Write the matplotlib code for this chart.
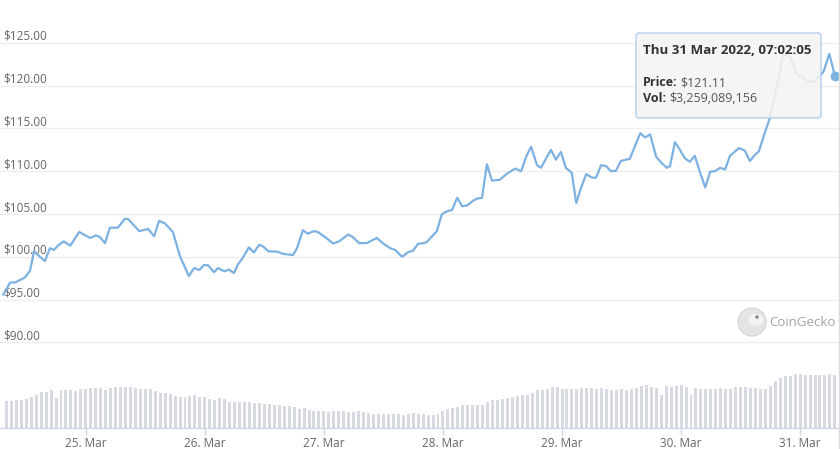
import pandas as pd
import matplotlib
matplotlib.use("Agg")
import matplotlib.pyplot as plt
import matplotlib.dates as mdates
from matplotlib.patches import FancyBboxPatch, Circle, Ellipse
from matplotlib.lines import Line2D
from matplotlib.transforms import IdentityTransform

plt.rcParams['font.family'] = ['Open Sans', 'DejaVu Sans']

# %% Data
start = pd.Timestamp("2022-03-24 00:00")
# hours since 24 Mar 00:00 and price in USD
price_hours = [7.4, 8.8, 9.8, 11.8, 12.8, 13.6, 14.6, 15.8, 16.8, 17.6,
               18.6, 19.6, 20.9, 22.7, 24.9, 26.1, 26.9, 27.9, 28.9, 30.5,
               31.9, 32.6, 34.8, 36.6, 37.8, 38.8, 40.0, 41.6, 43.0, 44.8,
               45.9, 46.9, 47.9, 48.7, 49.9, 50.7, 51.9, 52.9, 53.9, 54.7,
               55.7, 56.9, 57.9, 59.0, 59.8, 60.8, 62.6, 63.8, 65.8, 66.6,
               67.8, 68.8, 70.0, 70.8, 72.5, 73.9, 75.1, 76.9, 77.9, 79.1,
               80.7, 81.5, 82.7, 84.0, 85.4, 86.4, 87.8, 89.0, 90.0, 91.0,
               92.2, 92.8, 94.0, 94.8, 95.8, 96.6, 97.9, 98.9, 99.9, 100.9,
               102.1, 102.9, 103.9, 104.9, 105.9, 107.5, 108.9, 110.6, 111.8, 112.8,
               113.8, 115.0, 115.8, 117.8, 118.8, 119.8, 120.8, 122.0, 122.9, 123.9,
               124.9, 126.1, 126.9, 127.9, 128.9, 129.9, 130.9, 131.9, 133.7, 135.8,
               136.8, 137.8, 139.0, 140.2, 141.2, 141.8, 142.8, 143.8, 144.8, 145.8,
               146.8, 147.8, 148.9, 149.9, 150.9, 151.9, 152.9, 153.9, 154.9, 155.7,
               156.9, 157.9, 158.9, 159.7, 160.7, 161.8, 163.4, 164.6, 166.0, 167.4,
               168.4, 169.6, 170.6, 172.0, 172.8, 173.9, 174.5, 175.03]
price_usd = [95.6, 97.0, 97.0, 97.6, 98.4, 100.65, 100.1, 99.5, 101.0, 100.8,
             101.4, 101.8, 101.3, 102.9, 102.2, 102.5, 102.3, 101.6, 103.4, 103.4,
             104.45, 104.4, 103.0, 103.25, 102.4, 104.2, 103.9, 102.9, 100.1, 97.75,
             98.7, 98.45, 99.05, 99.0, 98.2, 98.7, 98.3, 98.5, 98.1, 99.1,
             99.9, 101.1, 100.5, 101.4, 101.2, 100.65, 100.6, 100.35, 100.2, 101.0,
             103.1, 102.7, 103.0, 102.9, 102.2, 101.55, 101.8, 102.6, 102.3, 101.6,
             101.6, 101.85, 102.2, 101.55, 101.0, 100.8, 100.0, 100.55, 100.7, 101.5,
             101.6, 101.75, 102.5, 103.0, 104.95, 105.25, 105.5, 106.9, 105.9, 106.0,
             106.55, 106.8, 106.9, 110.8, 108.9, 109.0, 109.7, 110.3, 110.0, 111.7,
             112.85, 110.7, 110.4, 112.5, 111.35, 112.25, 110.4, 109.8, 106.3, 108.1,
             109.65, 109.25, 109.25, 110.7, 110.6, 110.0, 110.05, 111.2, 111.45, 114.45,
             113.95, 114.3, 111.7, 110.9, 110.4, 110.6, 113.4, 112.5, 111.5, 111.1,
             111.8, 109.95, 108.1, 109.95, 110.0, 110.4, 110.2, 111.8, 112.3, 112.7,
             112.4, 111.2, 111.9, 112.3, 114.1, 116.0, 120.0, 123.6, 123.4, 121.3,
             121.1, 120.5, 120.4, 121.1, 121.7, 123.7, 122.4, 121.11]

# hourly volume, billions USD
vol_start = pd.Timestamp("2022-03-24 08:02:05")
vol_bn = [1.63, 1.67, 1.71, 1.73, 1.79, 1.89, 1.99, 2.20, 2.20, 2.34,
          1.85, 2.34, 2.34, 2.34, 2.26, 2.40, 2.40, 2.46, 2.46, 2.46,
          2.34, 2.46, 2.53, 2.50, 2.53, 2.48, 2.46, 2.40, 2.40, 2.40,
          2.26, 2.16, 2.16, 2.06, 1.93, 1.89, 1.89, 1.95, 1.99, 1.87,
          1.87, 1.79, 1.73, 1.83, 1.75, 1.59, 1.59, 1.59, 1.59, 1.59,
          1.55, 1.55, 1.49, 1.45, 1.43, 1.38,
          1.34, 1.32, 1.26, 1.18, 1.22, 1.08, 1.04, 1.02, 1.02, 0.98,
          1.02, 1.04, 1.02, 0.98, 0.98, 1.04, 0.98, 0.94, 0.88, 0.88,
          0.88, 0.88, 0.84, 0.88, 0.82, 0.88, 0.94, 0.88, 0.88, 0.82,
          0.77, 0.84, 1.02, 1.14, 1.22, 1.28, 1.38, 1.38, 1.38, 1.38,
          1.43, 1.59, 1.69, 1.69, 1.79, 1.83, 1.89, 1.93, 1.99, 2.04,
          2.14, 2.30, 2.34, 2.40, 2.50, 2.47,
          2.40, 2.40, 2.36, 2.40, 2.44, 2.46, 2.44, 2.40, 2.44, 2.40,
          2.34, 2.34, 2.36, 2.34, 2.40, 2.46, 2.54, 2.60, 2.50, 2.44,
          1.99, 2.56, 2.50, 2.54, 2.65, 2.50, 2.04, 2.44, 2.40, 2.40,
          2.40, 2.40, 2.44, 2.40, 2.40, 2.50, 2.50, 2.50, 2.46, 2.44,
          2.40, 2.40, 2.56, 2.85, 3.05, 3.17, 3.17, 3.32, 3.32, 3.26,
          3.26, 3.26, 3.26, 3.26, 3.32, 3.26]

price_ticks = [90, 95, 100, 105, 110, 115, 120, 125]
day_ticks = pd.date_range("2022-03-25", "2022-03-31", freq="D")

tip_time = pd.Timestamp("2022-03-31 07:02:05")
tip_price = 121.11
tip_vol = 3259089156

# %% Convert to matplotlib dates
price_x = mdates.date2num((start + pd.to_timedelta(price_hours, unit="h")).to_pydatetime())
vol_x = mdates.date2num(pd.date_range(vol_start, periods=len(vol_bn), freq="h").to_pydatetime())
day_x = mdates.date2num(day_ticks.to_pydatetime())
x_lo = mdates.date2num((start + pd.Timedelta(hours=6.74)).to_pydatetime())
x_hi = mdates.date2num((start + pd.Timedelta(hours=176.07)).to_pydatetime())

W, H = 840, 449
line_col = "#7cb1e2"

fig = plt.figure(figsize=(W / 100, H / 100), dpi=100)
ax_vol = fig.add_axes([0, 21 / H, 1, 428 / H])
ax = ax_vol.twinx()

# volume bars
ax_vol.bar(vol_x, vol_bn, width=0.6 / 24, color="#d7dae1", align="center")
ax_vol.set_ylim(0, 26.1)
ax_vol.set_xlim(x_lo, x_hi)
ax_vol.set_yticks([])
for s in ["top", "left", "right"]:
    ax_vol.spines[s].set_visible(False)
ax_vol.spines["bottom"].set_color("#ccd6eb")
ax_vol.set_xticks(day_x)
ax_vol.xaxis.set_major_formatter(mdates.DateFormatter("%d. %b"))
ax_vol.tick_params(axis="x", length=5, width=1, color="#ccd6eb",
                   labelcolor="#666666", labelsize=8.5, pad=1.5)

# price line
ax.set_ylim(80, 130)
ax.set_yticks([])
for s in ax.spines.values():
    s.set_visible(False)
for v in price_ticks:
    ax.axhline(v, color="#efefef", lw=1, zorder=0)
    ax.annotate(f"${v:.2f}", xy=(0, v), xycoords=("axes fraction", "data"),
                xytext=(3, 0), textcoords="offset pixels",
                ha="left", va="bottom", fontsize=8.5, color="#666666")
ax.plot(price_x, price_usd, color=line_col, lw=1.6, solid_joinstyle="round", zorder=3)
ax.plot(price_x[-1], price_usd[-1], "o", ms=6, color=line_col, zorder=4)

# CoinGecko watermark
fig.add_artist(Circle((752, H - 322), 14, transform=IdentityTransform(),
                      facecolor="#e4e4e4", edgecolor="#d8d8d8", lw=1))
fig.add_artist(Ellipse((756, H - 320), 15, 12, transform=IdentityTransform(),
                       facecolor="#f4f4f4", edgecolor="none"))
fig.add_artist(Circle((757, H - 317), 1.8, transform=IdentityTransform(),
                      facecolor="#8a8a8a", edgecolor="none"))
fig.text(769 / W, 1 - 322 / H, "CoinGecko", fontsize=9.5, color="#a3a3a3",
         ha="left", va="center")

# tooltip
fig.add_artist(FancyBboxPatch((636, H - 118), 185, 85, boxstyle="round,pad=0,rounding_size=3",
                              transform=IdentityTransform(), facecolor="#f4f4f4",
                              edgecolor="#a9c9ea", lw=1, alpha=0.88, zorder=10))
fig.text(643 / W, 1 - 50 / H, tip_time.strftime("%a %d %b %Y, %H:%M:%S"),
         fontsize=9.6, fontweight="bold", color="#333333", va="center", zorder=11)
lab1 = fig.text(643 / W, 1 - 83 / H, "Price:", fontsize=9, fontweight="bold",
                color="#333333", va="center", zorder=11)
lab2 = fig.text(643 / W, 1 - 99 / H, "Vol:", fontsize=9, fontweight="bold",
                color="#333333", va="center", zorder=11)
fig.add_artist(plt.Annotation(f"${tip_price:,.2f}", xy=(1, 0.5), xycoords=lab1,
                              xytext=(3, 0), textcoords="offset pixels",
                              va="center", fontsize=9, color="#555555", zorder=11))
fig.add_artist(plt.Annotation(f"${tip_vol:,}", xy=(1, 0.5), xycoords=lab2,
                              xytext=(3, 0), textcoords="offset pixels",
                              va="center", fontsize=9, color="#555555", zorder=11))

# right edge of the page
fig.add_artist(Line2D([838.5 / W, 838.5 / W], [0, 1], color="#dcdcdc", lw=1))

fig.savefig("out.png", dpi=100)
